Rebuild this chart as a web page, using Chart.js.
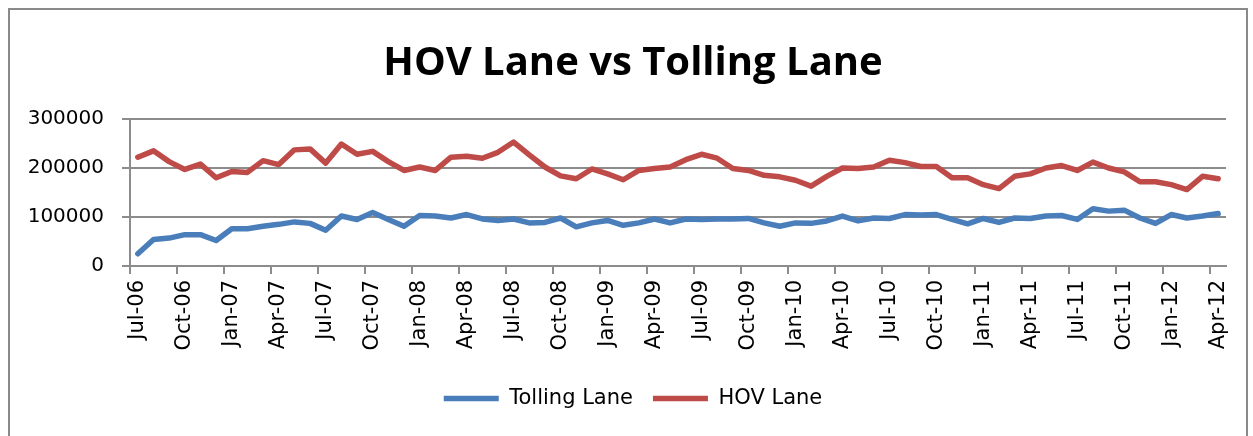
<!DOCTYPE html>
<html>
<head>
<meta charset="utf-8">
<script src="https://cdn.jsdelivr.net/npm/chart.js@4.4.1/dist/chart.umd.min.js"></script>
<style>
  html, body { margin: 0; padding: 0; background: #fff; }
  #wrap { position: relative; width: 1253px; height: 436px; overflow: hidden; }
  #frame { position: absolute; left: 8px; top: 8px; width: 1240px; height: 440px;
           border: 2px solid #8a8a8a; border-bottom: none; box-sizing: border-box; }
  canvas { position: absolute; left: 0; top: 0; }
</style>
</head>
<body>
<div id="wrap">
  <div id="frame"></div>
  <canvas id="c" width="1253" height="436"></canvas>
</div>
<script>
const titleText = 'HOV Lane vs Tolling Lane';
const months = [
  'Jul-06','Aug-06','Sep-06','Oct-06','Nov-06','Dec-06',
  'Jan-07','Feb-07','Mar-07','Apr-07','May-07','Jun-07','Jul-07','Aug-07','Sep-07','Oct-07','Nov-07','Dec-07',
  'Jan-08','Feb-08','Mar-08','Apr-08','May-08','Jun-08','Jul-08','Aug-08','Sep-08','Oct-08','Nov-08','Dec-08',
  'Jan-09','Feb-09','Mar-09','Apr-09','May-09','Jun-09','Jul-09','Aug-09','Sep-09','Oct-09','Nov-09','Dec-09',
  'Jan-10','Feb-10','Mar-10','Apr-10','May-10','Jun-10','Jul-10','Aug-10','Sep-10','Oct-10','Nov-10','Dec-10',
  'Jan-11','Feb-11','Mar-11','Apr-11','May-11','Jun-11','Jul-11','Aug-11','Sep-11','Oct-11','Nov-11','Dec-11',
  'Jan-12','Feb-12','Mar-12','Apr-12'
];
const tollingLabel = 'Tolling Lane';
const tollingLane = [
  25000,54000,57000,64000,64000,52000,76000,76000,81000,85000,
  90000,87000,73000,102000,95000,109000,95000,81000,103000,102000,
  98000,105000,96000,93000,96000,88000,89000,98000,80000,88000,
  93000,83000,88000,96000,88000,96000,95000,96000,96000,97000,
  88000,81000,88000,87000,92000,102000,92000,98000,97000,105000,
  104000,105000,95000,86000,97000,89000,98000,97000,102000,103000,
  95000,117000,112000,114000,98000,87000,105000,98000,102000,107000
];
const hovLabel = 'HOV Lane';
const hovLane = [
  222000,235000,213000,197000,208000,180000,193000,191000,215000,207000,
  237000,239000,210000,249000,228000,234000,213000,195000,202000,195000,
  222000,224000,220000,232000,253000,227000,202000,184000,178000,198000,
  188000,176000,195000,199000,202000,217000,228000,220000,199000,195000,
  185000,182000,175000,163000,183000,200000,199000,202000,216000,211000,
  203000,203000,180000,180000,166000,158000,183000,188000,200000,205000,
  195000,212000,200000,192000,172000,172000,166000,156000,183000,178000
];
const yTicks = [0, 100000, 200000, 300000];

const gridGray = '#8c8c8c';

new Chart(document.getElementById('c'), {
  type: 'line',
  data: {
    labels: months,
    datasets: [
      { label: tollingLabel, data: tollingLane, borderColor: '#4A7EBB', backgroundColor: '#4A7EBB',
        borderWidth: 5.5, pointRadius: 0, tension: 0, borderJoinStyle: 'round', borderCapStyle: 'round' },
      { label: hovLabel, data: hovLane, borderColor: '#BE4B48', backgroundColor: '#BE4B48',
        borderWidth: 5.5, pointRadius: 0, tension: 0, borderJoinStyle: 'round', borderCapStyle: 'round' }
    ]
  },
  options: {
    responsive: false,
    animation: false,
    devicePixelRatio: 1,
    layout: { padding: { left: 13, right: 0, top: 0, bottom: 17 } },
    plugins: {
      title: {
        display: true, text: titleText, color: '#000',
        font: { family: 'Open Sans', weight: 'bold', size: 40, lineHeight: 1.2 },
        padding: { top: 40, bottom: 31 }
      },
      legend: {
        position: 'bottom',
        labels: {
          color: '#000', font: { family: 'DejaVu Sans', size: 21 },
          usePointStyle: true, pointStyle: 'line', pointStyleWidth: 55, padding: 20
        }
      },
      tooltip: { enabled: false }
    },
    scales: {
      x: {
        type: 'category',
        offset: true,
        afterFit: (s) => { s.height = 102; },
        grid: {
          offset: true, drawOnChartArea: false, drawTicks: true, tickLength: 8, lineWidth: 2,
          tickColor: (ctx) => (ctx.index % 3 === 0 ? gridGray : 'rgba(0,0,0,0)')
        },
        border: { display: true, color: gridGray, width: 2 },
        ticks: {
          autoSkip: false, minRotation: 90, maxRotation: 90, padding: 6,
          color: '#000', font: { family: 'DejaVu Sans', size: 21 },
          callback: function(v, i) { return i % 3 === 0 ? this.getLabelForValue(v) : ''; }
        }
      },
      y: {
        min: 0, max: 300000,
        afterFit: (s) => { s.width = 117; },
        afterBuildTicks: (s) => { s.ticks = yTicks.map(v => ({ value: v })); },
        grid: { color: gridGray, lineWidth: 2, tickLength: 8, drawTicks: true },
        border: { display: true, color: gridGray, width: 2 },
        ticks: {
          padding: 18, color: '#000', font: { family: 'DejaVu Sans', size: 20 },
          callback: (v) => String(v)
        }
      },
      yR: {
        position: 'right', min: 0, max: 1,
        afterFit: (s) => { s.width = 27; },
        grid: { display: false, drawTicks: false },
        border: { display: false },
        ticks: { display: false }
      }
    }
  }
});
</script>
</body>
</html>
